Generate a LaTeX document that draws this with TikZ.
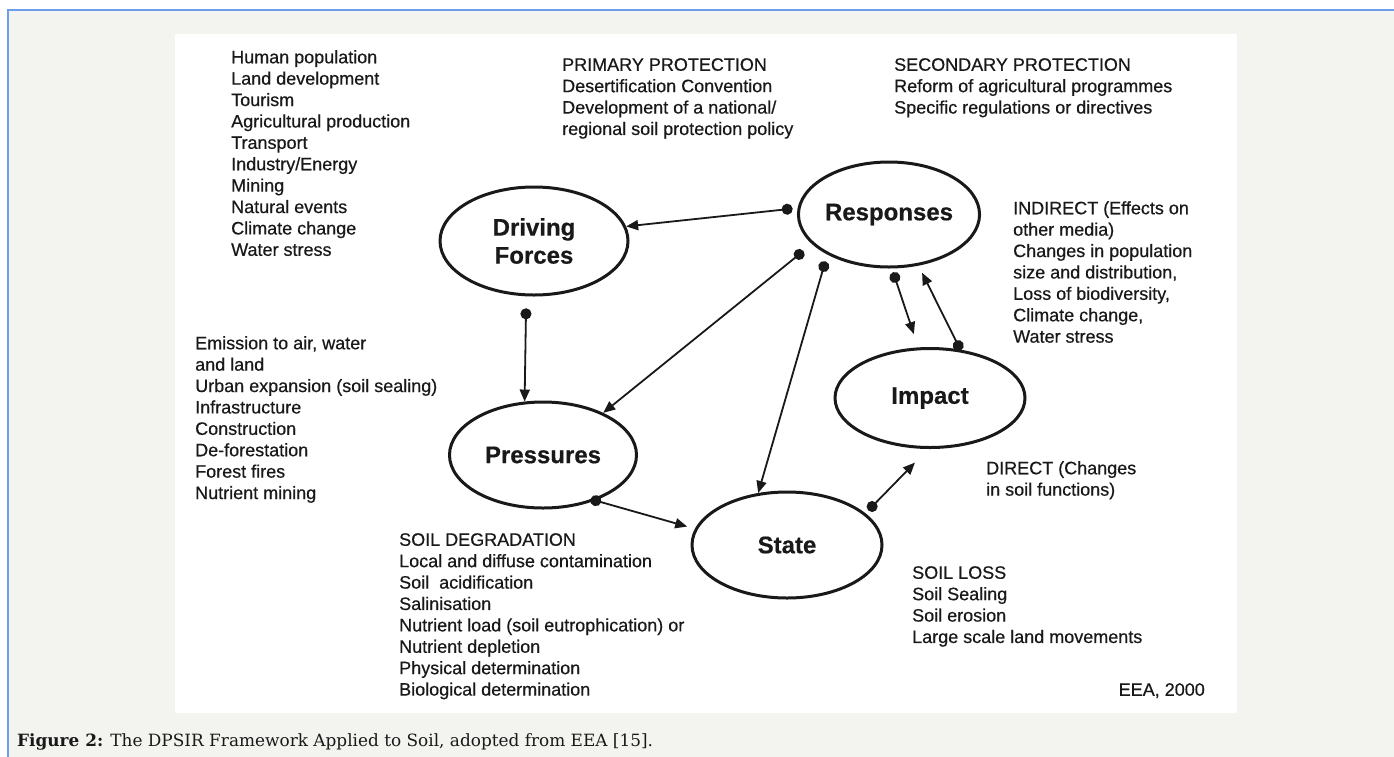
\documentclass[tikz,border=0pt]{standalone}
\usepackage{fontspec}
\setmainfont{Liberation Sans}[FakeBold=0.5]
\newfontfamily\capfont{DejaVu Serif}
\usetikzlibrary{shapes.geometric,arrows.meta}
\definecolor{pagebg}{RGB}{243,243,239}
\definecolor{frameblue}{RGB}{109,158,235}
\definecolor{ink}{RGB}{25,25,25}
\begin{document}
\begin{tikzpicture}[x=1pt,y=-1pt,
 ell/.style={ellipse,draw=ink,line width=3pt,inner sep=0pt,font=\fontsize{24}{28}\selectfont\bfseries,align=center,text=ink},
 txt/.style={anchor=north west,inner sep=0pt,align=left,font=\fontsize{18}{21.4}\selectfont,text=ink},
 conn/.style={draw=ink,line width=1.8pt,{Circle[length=11pt]}-{Triangle[length=12pt,width=10pt]}}]
\useasboundingbox (0,0) rectangle (1394,756);
\fill[white] (0,0) rectangle (1394,756);
\filldraw[fill=pagebg,draw=frameblue,line width=1.5pt] (8,10) rectangle (1410,780);
\fill[white] (175,34) rectangle (1237,713);

\node[ell,minimum width=188pt,minimum height=108pt] (drive) at (534,241) {Driving\\Forces};
\node[ell,minimum width=178pt,minimum height=105pt] (resp) at (889,214.5) {Responses};
\node[ell,minimum width=190pt,minimum height=99pt] (impact) at (930,398) {Impact};
\node[ell,minimum width=187pt,minimum height=106pt] (press) at (543,455) {Pressures};
\node[ell,minimum width=190pt,minimum height=106pt] (state) at (787,545) {State};

\draw[conn,shorten <=5pt] (resp.176) -- (drive.9);
\draw[conn,shorten <=12pt] (drive.262) -- (press.109);
\draw[conn,shorten <=11pt] (resp.201) -- (press.35);
\draw[conn,shorten <=7pt] (resp.213) -- (state.119);
\draw[conn,shorten <=4pt,shorten >=14pt] (resp.273) -- (impact.103);
\draw[conn,shorten <=-1pt,shorten >=8pt] (impact.58) -- (resp.300);
\draw[conn,shorten <=-5pt,shorten >=8pt] (press.319) -- (state.170);
\draw[conn,shorten <=4pt,shorten >=19pt] (state.22) -- (impact.268);

\node[txt] (tDF) at (231,50) {Human population\\Land development\\Tourism\\Agricultural production\\Transport\\Industry/Energy\\Mining\\Natural events\\Climate change\\Water stress};
\node[txt] (tPP) at (562,58) {PRIMARY PROTECTION\\Desertification Convention\\Development of a national/\\regional soil protection policy};
\node[txt] (tSP) at (894,58) {SECONDARY PROTECTION\\Reform of agricultural programmes\\Specific regulations or directives};
\node[txt] (tInd) at (1013,201) {INDIRECT (Effects on\\other media)\\Changes in population\\size and distribution,\\Loss of biodiversity,\\Climate change,\\Water stress};
\node[txt] (tPr) at (195,336) {Emission to air, water\\and land\\Urban expansion (soil sealing)\\Infrastructure\\Construction\\De-forestation\\Forest fires\\Nutrient mining};
\node[txt] (tDir) at (986,461) {DIRECT (Changes\\in soil functions)};
\node[txt] (tDeg) at (399,533) {SOIL DEGRADATION\\Local and diffuse contamination\\Soil\ \ acidification\\Salinisation\\Nutrient load (soil eutrophication) or\\Nutrient depletion\\Physical determination\\Biological determination};
\node[txt] (tLoss) at (912,566) {SOIL LOSS\\Soil Sealing\\Soil erosion\\Large scale land movements};
\node[txt,anchor=north east] (eea) at (1205,683) {EEA, 2000};

\node[anchor=base west,inner sep=0pt,font=\capfont\fontsize{16.9}{20}\selectfont,text=ink] (cap) at (17,746) {\textbf{Figure 2:} The DPSIR Framework Applied to Soil, adopted from EEA [15].};
\end{tikzpicture}
\end{document}
